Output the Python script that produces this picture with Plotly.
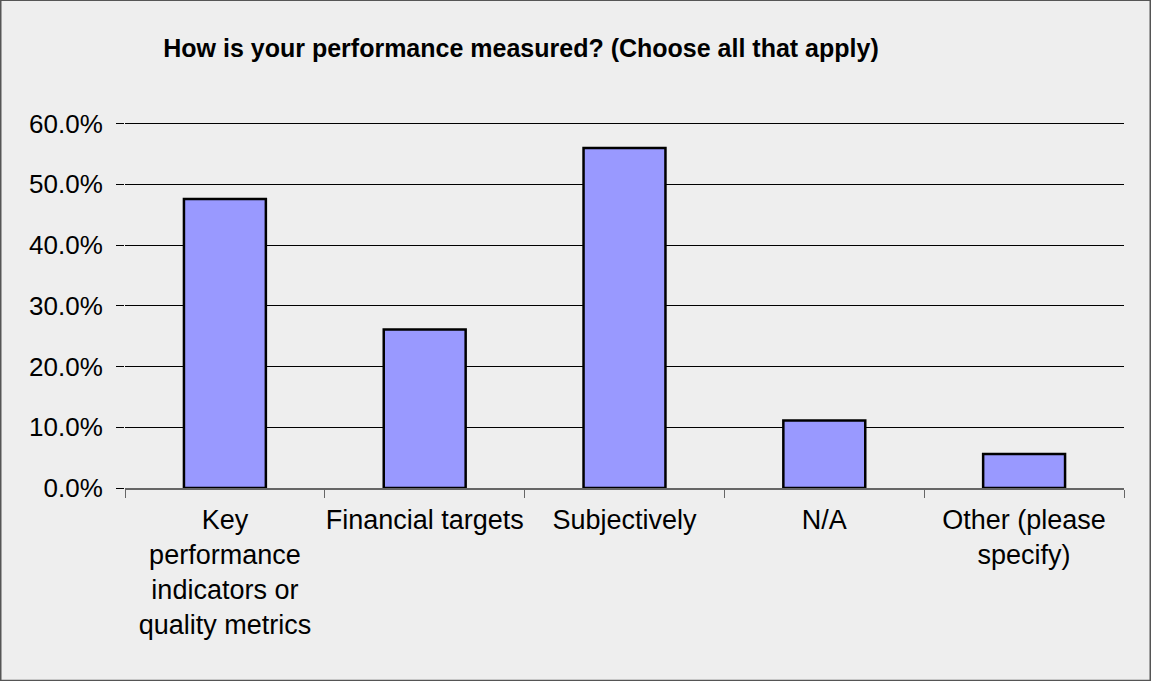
import plotly.graph_objects as go

categories = [
    "Key<br>performance<br>indicators or<br>quality metrics",
    "Financial targets",
    "Subjectively",
    "N/A",
    "Other (please<br>specify)",
]
shares = [0.476, 0.261, 0.560, 0.111, 0.056]

W, H = 1151, 681
FONT = "Arial, Liberation Sans, sans-serif"

# plot area: 0% sits at y=488 and 60% at y=124; a little headroom keeps the
# 60% gridline from being dropped at the edge of the range
y_top = 0.606
px_per_unit = (488 - 124) / 0.6
L, R, B = 125, 27, H - 488
T = H - B - px_per_unit * y_top

fig = go.Figure(go.Bar(
    x=categories,
    y=shares,
    width=0.41,
    marker=dict(color="#9999FF", line=dict(color="black", width=2.5)),
    hoverinfo="x+y",
))

# frame around the whole chart (paper coords extended past the plot area)
pw, ph = W - L - R, H - T - B
fig.add_shape(
    type="rect", xref="paper", yref="paper",
    x0=(0.75 - L) / pw, x1=(W - 0.75 - L) / pw,
    y0=(H - B - (H - 0.75)) / ph, y1=(H - B - 0.75) / ph,
    line=dict(color="#555555", width=1.5), layer="below",
)

fig.update_layout(
    width=W, height=H,
    margin=dict(l=L, r=R, t=T, b=B),
    paper_bgcolor="#EEEEEE",
    plot_bgcolor="#EEEEEE",
    font=dict(family=FONT, size=26, color="black"),
    title=dict(
        text="<b>How is your performance measured? (Choose all that apply)</b>",
        font=dict(size=25, family=FONT, color="black"),
        x=521 / W, xanchor="center", xref="container",
        y=1 - 48 / H, yanchor="middle", yref="container",
    ),
    showlegend=False,
)
fig.update_yaxes(
    range=[0, y_top], tickvals=[0, 0.1, 0.2, 0.3, 0.4, 0.5, 0.6], tickformat=".1%",
    showgrid=True, gridcolor="black", gridwidth=1,
    ticks="outside", ticklen=8, tickcolor="black",
    ticklabelstandoff=8,
    showline=False, zeroline=False,
    tickfont=dict(size=26),
)
fig.update_xaxes(
    tickson="boundaries", ticks="outside", ticklen=8, tickcolor="#666666",
    showline=True, linecolor="#666666", linewidth=1.5,
    showgrid=False, tickangle=0, ticklabelstandoff=7,
    tickfont=dict(size=27),
)

# the page body has a default margin; drop it so the chart fills the window
fig.write_html(
    "out.html",
    config={"displayModeBar": False},
    post_script="document.body.style.margin='0';",
)
